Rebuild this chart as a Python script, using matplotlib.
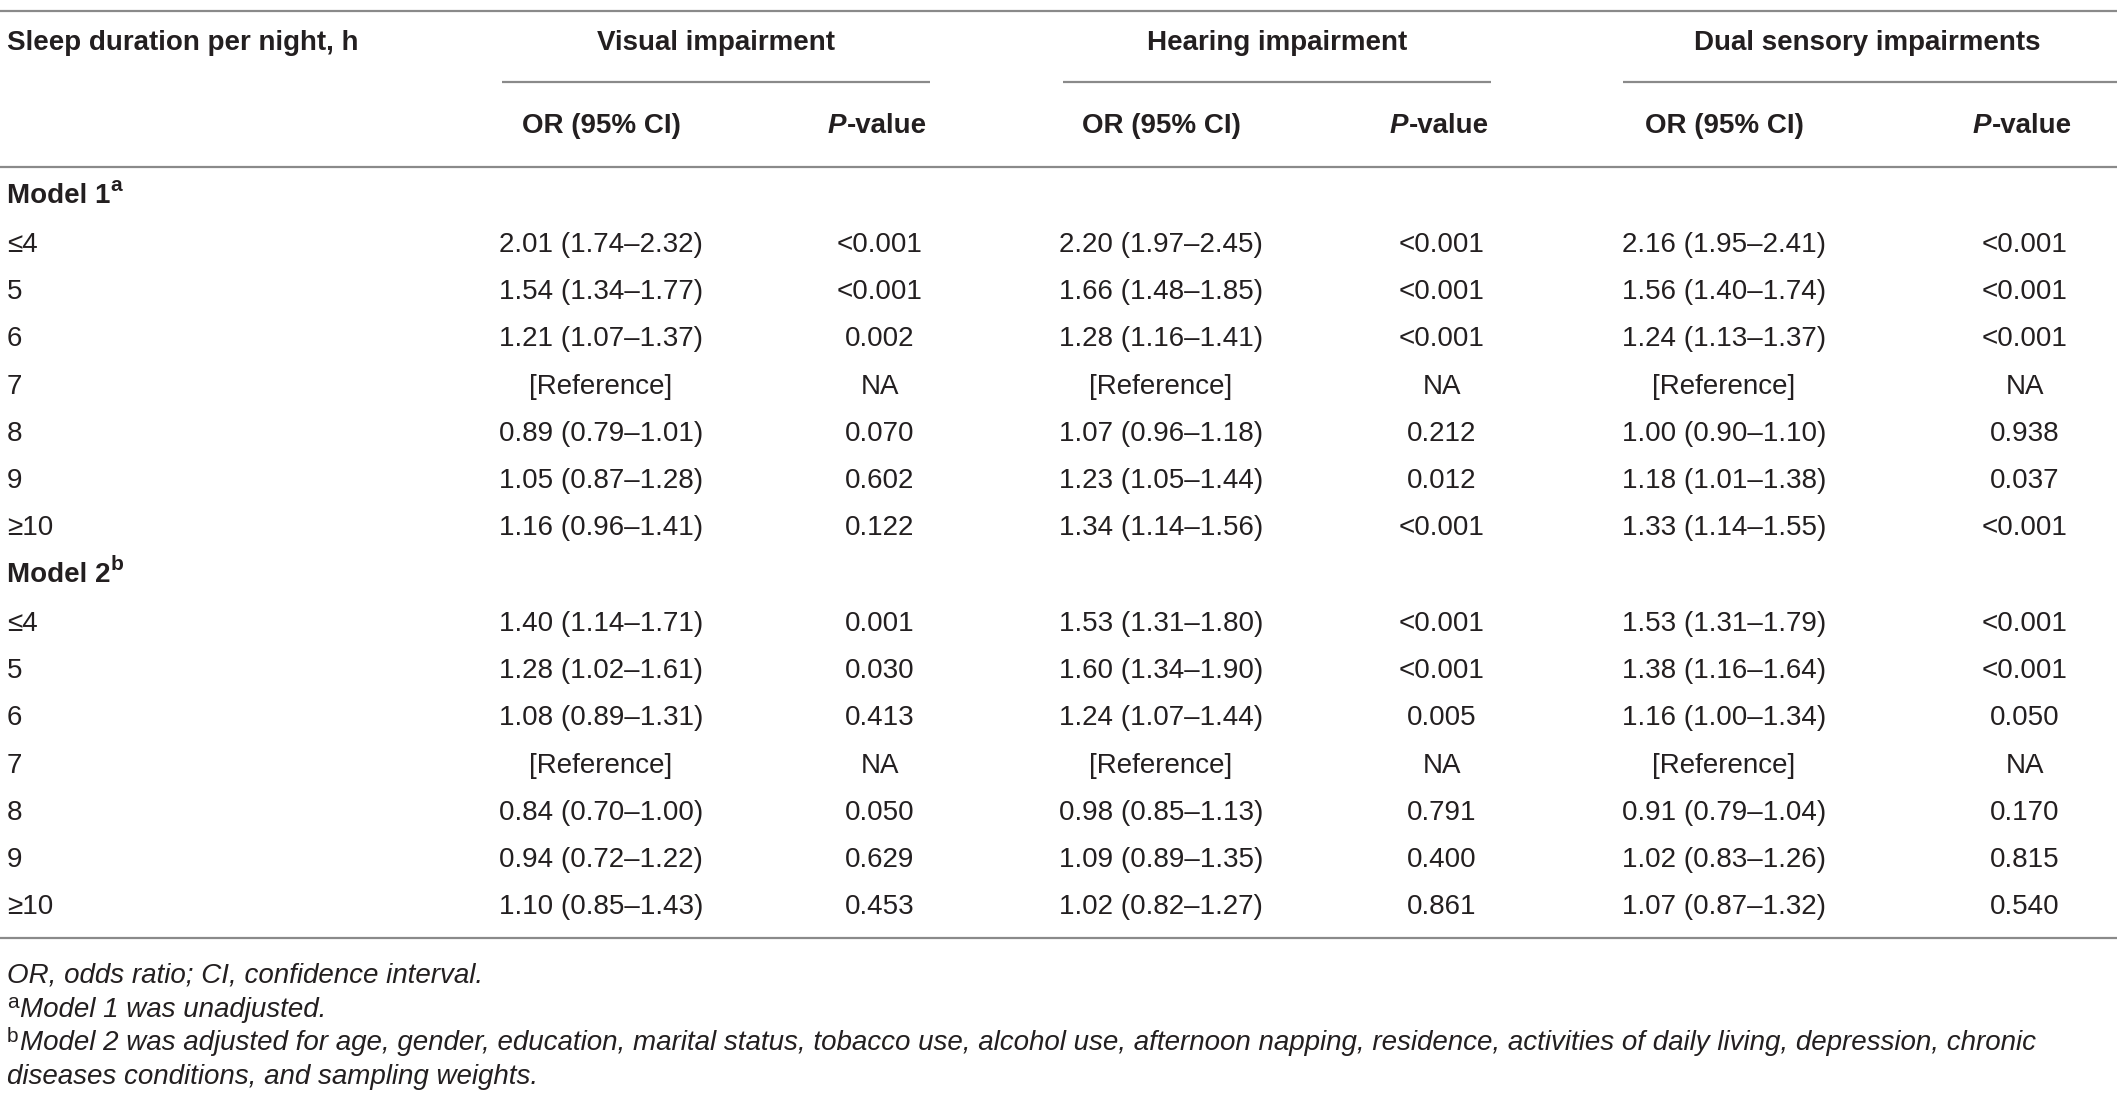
import matplotlib
matplotlib.use("Agg")
import matplotlib.pyplot as plt
from matplotlib import font_manager

# table content
groups = ["Visual impairment", "Hearing impairment", "Dual sensory impairments"]
sleep_labels = ["\u22644", "5", "6", "7", "8", "9", "\u226510"]

m1_visual_or = ["2.01 (1.74\u20132.32)", "1.54 (1.34\u20131.77)", "1.21 (1.07\u20131.37)", "[Reference]",
                "0.89 (0.79\u20131.01)", "1.05 (0.87\u20131.28)", "1.16 (0.96\u20131.41)"]
m1_visual_p = ["<0.001", "<0.001", "0.002", "NA", "0.070", "0.602", "0.122"]
m1_hearing_or = ["2.20 (1.97\u20132.45)", "1.66 (1.48\u20131.85)", "1.28 (1.16\u20131.41)", "[Reference]",
                 "1.07 (0.96\u20131.18)", "1.23 (1.05\u20131.44)", "1.34 (1.14\u20131.56)"]
m1_hearing_p = ["<0.001", "<0.001", "<0.001", "NA", "0.212", "0.012", "<0.001"]
m1_dual_or = ["2.16 (1.95\u20132.41)", "1.56 (1.40\u20131.74)", "1.24 (1.13\u20131.37)", "[Reference]",
              "1.00 (0.90\u20131.10)", "1.18 (1.01\u20131.38)", "1.33 (1.14\u20131.55)"]
m1_dual_p = ["<0.001", "<0.001", "<0.001", "NA", "0.938", "0.037", "<0.001"]

m2_visual_or = ["1.40 (1.14\u20131.71)", "1.28 (1.02\u20131.61)", "1.08 (0.89\u20131.31)", "[Reference]",
                "0.84 (0.70\u20131.00)", "0.94 (0.72\u20131.22)", "1.10 (0.85\u20131.43)"]
m2_visual_p = ["0.001", "0.030", "0.413", "NA", "0.050", "0.629", "0.453"]
m2_hearing_or = ["1.53 (1.31\u20131.80)", "1.60 (1.34\u20131.90)", "1.24 (1.07\u20131.44)", "[Reference]",
                 "0.98 (0.85\u20131.13)", "1.09 (0.89\u20131.35)", "1.02 (0.82\u20131.27)"]
m2_hearing_p = ["<0.001", "<0.001", "0.005", "NA", "0.791", "0.400", "0.861"]
m2_dual_or = ["1.53 (1.31\u20131.79)", "1.38 (1.16\u20131.64)", "1.16 (1.00\u20131.34)", "[Reference]",
              "0.91 (0.79\u20131.04)", "1.02 (0.83\u20131.26)", "1.07 (0.87\u20131.32)"]
m2_dual_p = ["<0.001", "<0.001", "0.050", "NA", "0.170", "0.815", "0.540"]

footnotes = [
    ("", "OR, odds ratio; CI, confidence interval."),
    ("a", "Model 1 was unadjusted."),
    ("b", "Model 2 was adjusted for age, gender, education, marital status, tobacco use, alcohol use, afternoon napping, residence, activities of daily living, depression, chronic"),
    ("", "diseases conditions, and sampling weights."),
]

# font
names = {f.name for f in font_manager.fontManager.ttflist}
fam = ["Liberation Sans Narrow", "DejaVu Sans"] if "Liberation Sans Narrow" in names else ["Liberation Sans", "DejaVu Sans"]
plt.rcParams["font.family"] = fam

TXT = "#231f20"
LINE = "#8a8a8a"
FS = 20
DY = 3  # small downward nudge for text

fig = plt.figure(figsize=(21.17, 11.0), dpi=100)
ax = fig.add_axes([0, 0, 1, 1])
ax.set_xlim(0, 2117)
ax.set_ylim(1100, 0)
ax.axis("off")

label_x = 7
or_x = [601, 1161, 1724]
p_x = [880, 1442, 2025]
group_x = [716, 1277, 1867]
sub_lines = [(502, 930), (1063, 1491), (1623, 2117)]

# header
ax.hlines(11, 0, 2117, color=LINE, lw=1.6)
ax.text(label_x, 40 + DY, "Sleep duration per night, h", fontsize=FS, fontweight="bold", color=TXT, va="center")
for gx, g, (a, b) in zip(group_x, groups, sub_lines):
    ax.text(gx, 40 + DY, g, fontsize=FS, fontweight="bold", color=TXT, va="center", ha="center")
    ax.hlines(82, a, b, color=LINE, lw=1.6)
for ox, px in zip(or_x, p_x):
    ax.text(ox, 123 + DY, "OR (95% CI)", fontsize=FS, fontweight="bold", color=TXT, va="center", ha="center")
    tp = ax.text(px - 52, 123 + DY, "P", fontsize=FS, fontweight="bold", style="italic", color=TXT, va="center", ha="left")
    ax.annotate("-value", xy=(1, 0), xycoords=tp, fontsize=FS, fontweight="bold", color=TXT, va="bottom", ha="left")
ax.hlines(167, 0, 2117, color=LINE, lw=1.6)


def model_block(y0, title, sup, cols):
    t = ax.text(label_x, y0 + DY, title, fontsize=FS, fontweight="bold", color=TXT, va="center")
    ax.annotate(sup, xy=(1, 0.55), xycoords=t, fontsize=FS - 5, fontweight="bold", color=TXT, va="bottom", ha="left")
    for i, lab in enumerate(sleep_labels):
        y = y0 + 49 + 47.2 * i + DY
        ax.text(label_x, y, lab, fontsize=FS, color=TXT, va="center")
        for k in range(3):
            ax.text(or_x[k], y, cols[2 * k][i], fontsize=FS, color=TXT, va="center", ha="center")
            ax.text(p_x[k], y, cols[2 * k + 1][i], fontsize=FS, color=TXT, va="center", ha="center")


model_block(193, "Model 1", "a", [m1_visual_or, m1_visual_p, m1_hearing_or, m1_hearing_p, m1_dual_or, m1_dual_p])
model_block(572, "Model 2", "b", [m2_visual_or, m2_visual_p, m2_hearing_or, m2_hearing_p, m2_dual_or, m2_dual_p])

ax.hlines(938, 0, 2117, color=LINE, lw=1.6)

for j, (sup, note) in enumerate(footnotes):
    y = 976 + 33.7 * j
    if sup:
        s = ax.text(label_x, y - 7, sup, fontsize=FS - 5, color=TXT, va="center")
        ax.annotate(note, xy=(1, 0.5), xycoords=s, xytext=(1, -7), textcoords="offset pixels",
                    fontsize=FS, style="italic", color=TXT, va="center", ha="left")
    else:
        ax.text(label_x, y, note, fontsize=FS, style="italic", color=TXT, va="center")

fig.savefig("out.png", dpi=100)
